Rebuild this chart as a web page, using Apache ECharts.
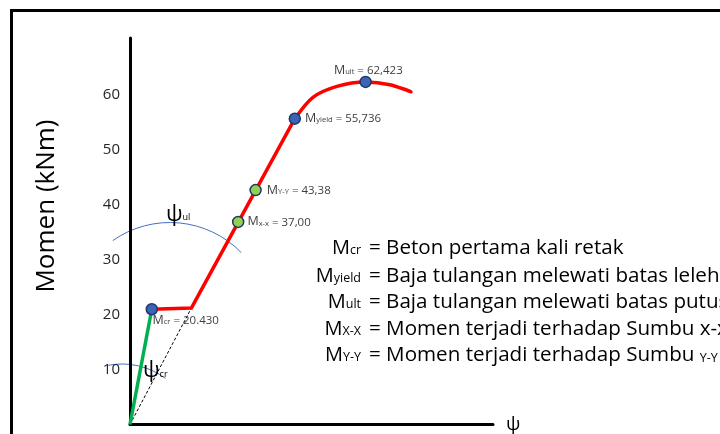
<!DOCTYPE html>
<html>
<head>
<meta charset="utf-8">
<script src="https://cdn.jsdelivr.net/npm/echarts@6/dist/echarts.min.js"></script>
<style>
  html, body { margin: 0; padding: 0; background: #fff; }
  #chart { width: 720px; height: 434px; }
</style>
</head>
<body>
<div id="chart"></div>
<script>
// ψ (x) dan Momen (y)
const greenLine = [[0, 0], [6.0, 21.0]];
const crackLine = [[0, 0], [16.9, 21.2]];
const redLine = [[6.0, 21.0], [16.9, 21.2], [45.4, 55.7]];
const redCurve = [[45.4, 55.7], [50.4, 59.6], [57.0, 61.6], [64.9, 62.4], [71.6, 61.9], [77.4, 60.6]];
const bluePoints = [[6.0, 21.0], [45.4, 55.7], [64.9, 62.4]];
const bluePointNames = [['cr', '20.430'], ['yield', '55,736'], ['ult', '62,423']];
const greenPoints = [[29.8, 36.9], [34.6, 42.7]];
const greenPointNames = [['x-x', '37,00'], ['Y-Y', '43,38']];
const yTicks = [10, 20, 30, 40, 50, 60];
const legendSubs = ['cr', 'yield', 'ult', 'X-X', 'Y-Y'];
const legendTexts = [
  '= Beton pertama kali retak',
  '= Baja tulangan melewati batas leleh',
  '= Baja tulangan melewati batas putus',
  '= Momen terjadi terhadap Sumbu x-x',
  '= Momen terjadi terhadap Sumbu '
];

const FONT = '"Open Sans", sans-serif';

// label titik: posisi tiap label
const blueLabelPos = [
  { position: [7, 17], align: 'left', verticalAlign: 'middle' },
  { position: 'right', distance: 4 },
  { position: [9, -5], align: 'center', verticalAlign: 'middle' }
];
const greenLabelPos = [
  { position: 'right', distance: 3 },
  { position: 'right', distance: 5 }
];

const pointRich = {
  m: { fontSize: 12.5, color: '#404040', fontFamily: FONT, verticalAlign: 'bottom' },
  s: { fontSize: 7.5, color: '#404040', fontFamily: FONT, verticalAlign: 'bottom', padding: [0, 0, 1, 0] },
  v: { fontSize: 11.5, color: '#404040', fontFamily: FONT, verticalAlign: 'bottom' }
};

const mkPoints = (pts, names, pos) => pts.map((p, i) => ({
  value: p,
  label: Object.assign({
    show: true,
    formatter: '{m|M}{s|' + names[i][0] + '}{v| = ' + names[i][1] + '}',
    rich: pointRich
  }, pos[i])
}));

const chart = echarts.init(document.getElementById('chart'));

const graphic = [
  {
    type: 'rect', silent: true, z: 0,
    shape: { x: 11.5, y: 10.5, width: 800, height: 500 },
    style: { fill: null, stroke: '#000', lineWidth: 3 }
  },
  {
    type: 'text', silent: true,
    x: 47, y: 206, rotation: Math.PI / 2,
    style: {
      text: 'Momen (kNm)', font: '26px ' + FONT, fill: '#000',
      align: 'center', verticalAlign: 'middle'
    }
  },
  // busur ψ_ul dan ψ_cr
  {
    type: 'arc', silent: true,
    shape: { cx: 170, cy: 322, r: 99.5, startAngle: -2.184, endAngle: -0.772, clockwise: true },
    style: { fill: null, stroke: '#4472c4', lineWidth: 1 }
  },
  {
    type: 'arc', silent: true,
    shape: { cx: 122, cy: 437, r: 73, startAngle: -1.76, endAngle: -0.933, clockwise: true },
    style: { fill: null, stroke: '#4472c4', lineWidth: 1 }
  },
  {
    type: 'text', silent: true, x: 166, y: 204,
    style: {
      text: '{p|ψ}{s|ul}',
      rich: {
        p: { fontSize: 22, fontFamily: FONT, fill: '#000', verticalAlign: 'bottom' },
        s: { fontSize: 9, fontFamily: FONT, fill: '#000', verticalAlign: 'bottom', padding: [0, 0, 4, 0] }
      }
    }
  },
  {
    type: 'text', silent: true, x: 143, y: 360,
    style: {
      text: '{p|ψ}{s|cr}',
      rich: {
        p: { fontSize: 22, fontFamily: FONT, fill: '#000', verticalAlign: 'bottom' },
        s: { fontSize: 9, fontFamily: FONT, fill: '#000', verticalAlign: 'bottom', padding: [0, 0, 3, 0] }
      }
    }
  }
];

// keterangan di kanan
const rowY = [248, 276, 302, 329, 355];
legendSubs.forEach((sub, i) => {
  graphic.push({
    type: 'text', silent: true, x: 361, y: rowY[i],
    style: {
      text: '{m|M}{s|' + sub + '}',
      align: 'right', verticalAlign: 'middle',
      rich: {
        m: { fontSize: 20, fontFamily: FONT, fill: '#000', verticalAlign: 'bottom' },
        s: { fontSize: 12.5, fontFamily: FONT, fill: '#000', verticalAlign: 'bottom', padding: [0, 0, 1, 0] }
      }
    }
  });
  graphic.push({
    type: 'text', silent: true, x: 369, y: rowY[i],
    style: {
      text: '{t|' + legendTexts[i] + '}' + (i === 4 ? '{s|Y-Y}' : ''),
      align: 'left', verticalAlign: 'middle',
      rich: {
        t: { fontSize: 20.6, fontFamily: FONT, fill: '#000', verticalAlign: 'bottom' },
        s: { fontSize: 12.5, fontFamily: FONT, fill: '#000', verticalAlign: 'bottom', padding: [0, 0, 1, 0] }
      }
    }
  });
});

chart.setOption({
  animation: false,
  backgroundColor: '#fff',
  grid: { left: 130, right: 227, top: 38, bottom: 6, containLabel: false },
  xAxis: {
    type: 'value', min: 0, max: 100,
    name: 'ψ', nameLocation: 'end', nameGap: 13,
    nameTextStyle: { fontSize: 19, fontFamily: FONT, color: '#000', verticalAlign: 'middle' },
    axisLine: { lineStyle: { color: '#000', width: 3 } },
    axisTick: { show: false }, axisLabel: { show: false }, splitLine: { show: false }
  },
  yAxis: {
    type: 'value', min: 0, max: 70.4, interval: 10,
    axisLine: { show: true, lineStyle: { color: '#000', width: 3 } },
    axisTick: { show: false }, splitLine: { show: false },
    axisLabel: {
      margin: 10, fontSize: 15, fontFamily: FONT, color: '#262626',
      formatter: v => (yTicks.indexOf(v) >= 0 ? String(v) : '')
    }
  },
  graphic: graphic,
  series: [
    {
      type: 'line', data: crackLine, showSymbol: false, silent: true,
      lineStyle: { color: '#000', width: 1, type: [3, 2] }
    },
    {
      type: 'line', data: greenLine, showSymbol: false, silent: true,
      lineStyle: { color: '#00b050', width: 3.5 }
    },
    {
      type: 'line', data: redLine, showSymbol: false, silent: true,
      lineStyle: { color: '#ff0000', width: 3.5, join: 'round' }
    },
    {
      type: 'line', data: redCurve, showSymbol: false, silent: true, smooth: 0.3,
      lineStyle: { color: '#ff0000', width: 3.5, cap: 'round' }
    },
    {
      type: 'scatter', data: mkPoints(bluePoints, bluePointNames, blueLabelPos),
      symbolSize: 11, z: 5,
      itemStyle: { color: '#3a64b8', borderColor: '#1f3864', borderWidth: 1.5, opacity: 1 }
    },
    {
      type: 'scatter', data: mkPoints(greenPoints, greenPointNames, greenLabelPos),
      symbolSize: 11, z: 5,
      itemStyle: { color: '#92d050', borderColor: '#1f3864', borderWidth: 1.5, opacity: 1 }
    }
  ]
});
</script>
</body>
</html>
